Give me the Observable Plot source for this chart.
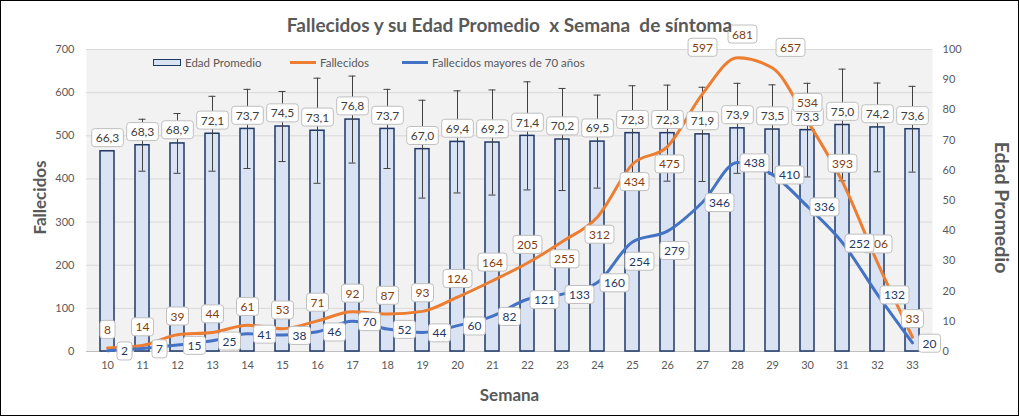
<!DOCTYPE html>
<html><head><meta charset="utf-8">
<script src="https://cdn.jsdelivr.net/npm/d3@7"></script>
<script src="https://cdn.jsdelivr.net/npm/@observablehq/plot@0.6"></script>
<style>
body{margin:0;background:#fff;}
#wrap{position:relative;width:1019px;height:416px;overflow:hidden;}
#border{position:absolute;left:0;top:0;width:1019px;height:416px;border:1px solid #000;box-sizing:border-box;pointer-events:none;}
.lg{position:absolute;top:55px;font:11.5px Lato,sans-serif;color:#595959;white-space:nowrap;display:flex;align-items:center;height:14px;}
.sw{display:inline-block;width:26px;margin-right:4px;}
</style>
</head><body>
<div id="wrap">
<div id="chart"></div>
<div class="lg" style="left:153px"><span class="sw" style="height:5px;background:#dae3f3;border:1px solid #1f3864;"></span>Edad Promedio</div>
<div class="lg" style="left:290px"><span class="sw" style="height:3px;background:#ed7d31;"></span>Fallecidos</div>
<div class="lg" style="left:402px"><span class="sw" style="height:3px;background:#4472c4;"></span>Fallecidos mayores de 70 años</div>
<div id="border"></div>
</div>
<script>
const weeks = [10,11,12,13,14,15,16,17,18,19,20,21,22,23,24,25,26,27,28,29,30,31,32,33];
const edadPromedio = [66.3,68.3,68.9,72.1,73.7,74.5,73.1,76.8,73.7,67.0,69.4,69.2,71.4,70.2,69.5,72.3,72.3,71.9,73.9,73.5,73.3,75.0,74.2,73.6];
const edadDesviacion = [0,8.6,9.9,12.4,13.1,11.6,17.4,14.4,13.1,16.2,16.9,17.4,17.9,16.9,15.4,15.7,15.9,15.6,14.9,14.8,15.5,18.5,14.7,14.2];
const fallecidos = [8,14,39,44,61,53,71,92,87,93,126,164,205,255,312,434,475,597,681,657,534,393,206,33];
const fallecidos70 = [2,7,15,25,41,38,46,70,52,44,60,82,121,133,160,254,279,346,438,410,336,252,132,20];
// callout placement keywords (as Excel placed them)
const fallecidosLabelSide = ["above","above","above","above","above","above","above","above","above","above","above","above","above","below","below","below","below","highLeft","peak","highRight","above","above","above","above"];
const fallecidos70LabelSide = ["right","right","right","right","right","right","right","right","right","right","right","right","right","right","right","below","below","right","right","right","right","right","right","right"];

const leftTicks = [0,100,200,300,400,500,600,700];
const rightTicks = [0,10,20,30,40,50,60,70,80,90,100];
const ageFactor = 700 / 100;

const table = weeks.map((w, i) => ({
  week: w, age: edadPromedio[i], sd: edadDesviacion[i],
  fall: fallecidos[i], fall70: fallecidos70[i],
  side: fallecidosLabelSide[i], side70: fallecidos70LabelSide[i]
}));
const fmtAge = v => v.toFixed(1).replace(".", ",");
const font = "Lato, sans-serif";
const box = {ariaDescription: "lbl-box", fontSize: 12};

const orangeOffsets = {above: [0, -18], below: [2, 18], highLeft: [0, -46], peak: [5, -23], highRight: [18, -20]};
const blueOffsets = {right: [17, 1], below: [7, 20]};

const orangeLabelMarks = Object.entries(orangeOffsets).map(([k, [dx, dy]]) =>
  Plot.text(table.filter(d => d.side === k), {x: "week", y: "fall", text: d => String(d.fall), dx, dy, fill: "#843c0c", ...box}));
const blueLabelMarks = Object.entries(blueOffsets).map(([k, [dx, dy]]) =>
  Plot.text(table.filter(d => d.side70 === k), {x: "week", y: "fall70", text: d => String(d.fall70), dx, dy, fill: "#1f3864", ...box}));

const plot = Plot.plot({
  width: 1019, height: 416,
  marginLeft: 86, marginRight: 87, marginTop: 49, marginBottom: 65,
  style: {fontFamily: font, background: "transparent", overflow: "visible"},
  x: {type: "band", domain: weeks, paddingInner: 0.6, paddingOuter: 0.3},
  y: {domain: [0, 700]},
  marks: [
    Plot.frame({fill: "#f2f2f2", stroke: "none"}),
    Plot.ruleY(leftTicks.slice(1), {stroke: "#d9d9d9", strokeWidth: 1}),
    Plot.ruleY([0], {stroke: "#bfbfbf", strokeWidth: 1}),
    Plot.axisY(leftTicks, {anchor: "left", tickSize: 0, tickPadding: 12, fontSize: 11, color: "#595959", label: null}),
    Plot.axisY(rightTicks.map(d => d * ageFactor), {anchor: "right", tickSize: 0, tickPadding: 10, fontSize: 11, color: "#595959", tickFormat: d => Math.round(d / ageFactor), label: null}),
    Plot.axisX(weeks, {anchor: "bottom", tickSize: 0, tickPadding: 10, fontSize: 11, color: "#595959", label: null}),
    Plot.barY(table, {x: "week", y: d => d.age * ageFactor, fill: "#dae3f3", stroke: "#1f3864", strokeWidth: 1.5}),
    Plot.ruleX(table.filter(d => d.sd > 0), {x: "week", y1: d => (d.age - d.sd) * ageFactor, y2: d => (d.age + d.sd) * ageFactor, stroke: "#404040", strokeWidth: 1}),
    Plot.tickY(table.filter(d => d.sd > 0), {x: "week", y: d => (d.age + d.sd) * ageFactor, stroke: "#404040", strokeWidth: 1, insetLeft: 3.5, insetRight: 3.5}),
    Plot.tickY(table.filter(d => d.sd > 0), {x: "week", y: d => (d.age - d.sd) * ageFactor, stroke: "#404040", strokeWidth: 1, insetLeft: 3.5, insetRight: 3.5}),
    Plot.line(table, {x: "week", y: "fall", stroke: "#ed7d31", strokeWidth: 3, curve: "monotone-x"}),
    Plot.line(table, {x: "week", y: "fall70", stroke: "#4472c4", strokeWidth: 3, curve: "monotone-x"}),
    Plot.text(table, {x: "week", y: d => d.age * ageFactor, text: d => fmtAge(d.age), dy: -13, fill: "#404040", ...box}),
    ...orangeLabelMarks,
    ...blueLabelMarks,
    Plot.text(["Fallecidos y su Edad Promedio  x Semana  de síntoma"], {frameAnchor: "top", lineAnchor: "middle", dy: -24, fontSize: 19, fontWeight: "bold", fill: "#595959", fontFamily: font}),
    Plot.text(["Fallecidos"], {frameAnchor: "left", textAnchor: "middle", lineAnchor: "middle", dx: -46, dy: -3, rotate: -90, fontSize: 17, fontWeight: "bold", fill: "#595959"}),
    Plot.text(["Edad Promedio"], {frameAnchor: "right", textAnchor: "middle", lineAnchor: "middle", dx: 69, dy: 7, rotate: 90, fontSize: 19.5, fontWeight: "bold", fill: "#595959"}),
    Plot.text(["Semana"], {frameAnchor: "bottom", lineAnchor: "middle", dy: 44, fontSize: 17, fontWeight: "bold", fill: "#595959"})
  ]
});
document.getElementById("chart").appendChild(plot);

// white rounded callout boxes behind data labels
plot.querySelectorAll('g[aria-description="lbl-box"] text').forEach(t => {
  const b = t.getBBox();
  const r = document.createElementNS("http://www.w3.org/2000/svg", "rect");
  r.setAttribute("x", b.x - 4);
  r.setAttribute("y", b.y - 1.5);
  r.setAttribute("width", b.width + 8);
  r.setAttribute("height", b.height + 3);
  r.setAttribute("rx", 3);
  r.setAttribute("fill", "#fff");
  r.setAttribute("stroke", "#bfbfbf");
  r.setAttribute("stroke-width", 1);
  if (t.getAttribute("transform")) r.setAttribute("transform", t.getAttribute("transform"));
  t.parentNode.insertBefore(r, t);
});
plot.querySelectorAll('text').forEach(t => { if (t.textContent.includes("  ")) t.style.whiteSpace = "pre"; });
</script>
</body></html>
